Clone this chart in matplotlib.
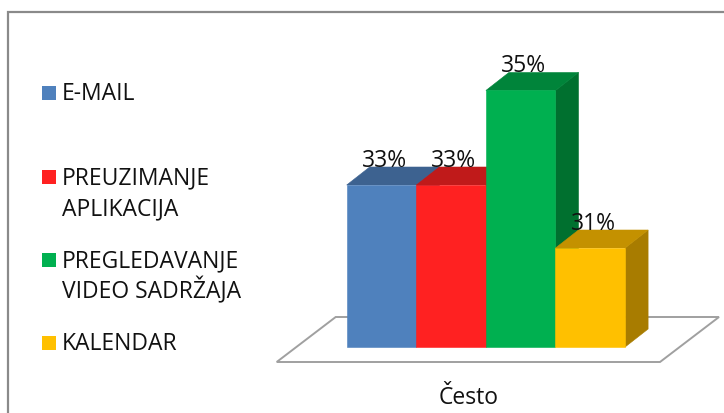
import matplotlib
matplotlib.use("Agg")
import matplotlib.pyplot as plt
from matplotlib.patches import Polygon, Rectangle

# ── data ──────────────────────────────────────────────────────────────
category = "Često"
series = ["E-MAIL", "PREUZIMANJE\nAPLIKACIJA", "PREGLEDAVANJE\nVIDEO SADRŽAJA", "KALENDAR"]
values = [0.326, 0.326, 0.347, 0.312]

# front / top / side shades per series
front_colors = ["#4F81BD", "#FF2121", "#00B050", "#FFC000"]
top_colors = ["#3D6290", "#C01A1A", "#00843A", "#C49100"]
side_colors = ["#2F4D72", "#A01414", "#00702F", "#A87C00"]

FONT = "Open Sans"
W, H = 724, 413

# ── layout (pixels → data units) ─────────────────────────────────────
x0_px, bar_px = 346.7, 69.6       # left edge of first bar, bar width
base_px, px_per_unit = 347.0, 4500.0
ymin = 0.29                        # value at the floor of the bars

fig = plt.figure(figsize=(W / 100, H / 100), dpi=100)
ax = fig.add_axes([0, 0, 1, 1])
ax.set_xlim(-x0_px / bar_px, (W - x0_px) / bar_px)
ax.set_ylim(ymin - (H - base_px) / px_per_unit, ymin + base_px / px_per_unit)
ax.axis("off")

# oblique depth of each bar
ddx, ddy = 23 / bar_px, 18 / px_per_unit

# floor
fy0 = ymin - 15 / px_per_unit
fy1 = fy0 + 45 / px_per_unit
fxl, fxr = -70 / bar_px, (660 - x0_px) / bar_px
fdx = 59 / bar_px
ax.add_patch(Polygon([(fxl, fy0), (fxr, fy0), (fxr + fdx, fy1), (fxl + fdx, fy1)],
                     closed=True, facecolor="white", edgecolor="#A0A0A0", lw=1.4))

# bars, left to right so each front hides the previous side
for i, v in enumerate(values):
    x = i
    side = [(x + 1, ymin), (x + 1 + ddx, ymin + ddy), (x + 1 + ddx, v + ddy), (x + 1, v)]
    top = [(x, v), (x + 1, v), (x + 1 + ddx, v + ddy), (x + ddx, v + ddy)]
    front = [(x, ymin), (x + 1, ymin), (x + 1, v), (x, v)]
    ax.add_patch(Polygon(side, closed=True, fc=side_colors[i], ec=side_colors[i], lw=0.4))
    ax.add_patch(Polygon(top, closed=True, fc=top_colors[i], ec=top_colors[i], lw=0.4))
    ax.add_patch(Polygon(front, closed=True, fc=front_colors[i], ec=front_colors[i], lw=0.4))
    ax.text(x + 0.5 + 0.04, v + ddy, f"{v:.0%}", ha="center", va="baseline",
            fontsize=16.5, family=FONT, color="#111111")

# category label under the floor
ax.text((fxl + fxr) / 2, ymin - 57 / px_per_unit, category, ha="center", va="baseline",
        fontsize=16.5, family=FONT, color="#111111")

# legend
first_line_px = [93, 177, 260, 343]
line_gap_px = 30.5
for i, name in enumerate(series):
    cy = first_line_px[i]
    fig.patches.append(Rectangle((42 / W, 1 - (cy + 7) / H), 14 / W, 14 / H,
                                 transform=fig.transFigure, fc=front_colors[i], ec="none"))
    for j, line in enumerate(name.split("\n")):
        fig.text(62 / W, 1 - (cy + 7.5 + j * line_gap_px) / H, line, ha="left", va="baseline",
                 fontsize=16.5, family=FONT, color="#111111")

# chart frame (cut off at right and bottom)
fig.patches.append(Rectangle((7.5 / W, -0.1), 2, (H - 12.5) / H + 0.1,
                             transform=fig.transFigure, fill=False, ec="#8A8A8A", lw=1.6))

fig.savefig("out.png", dpi=100)
